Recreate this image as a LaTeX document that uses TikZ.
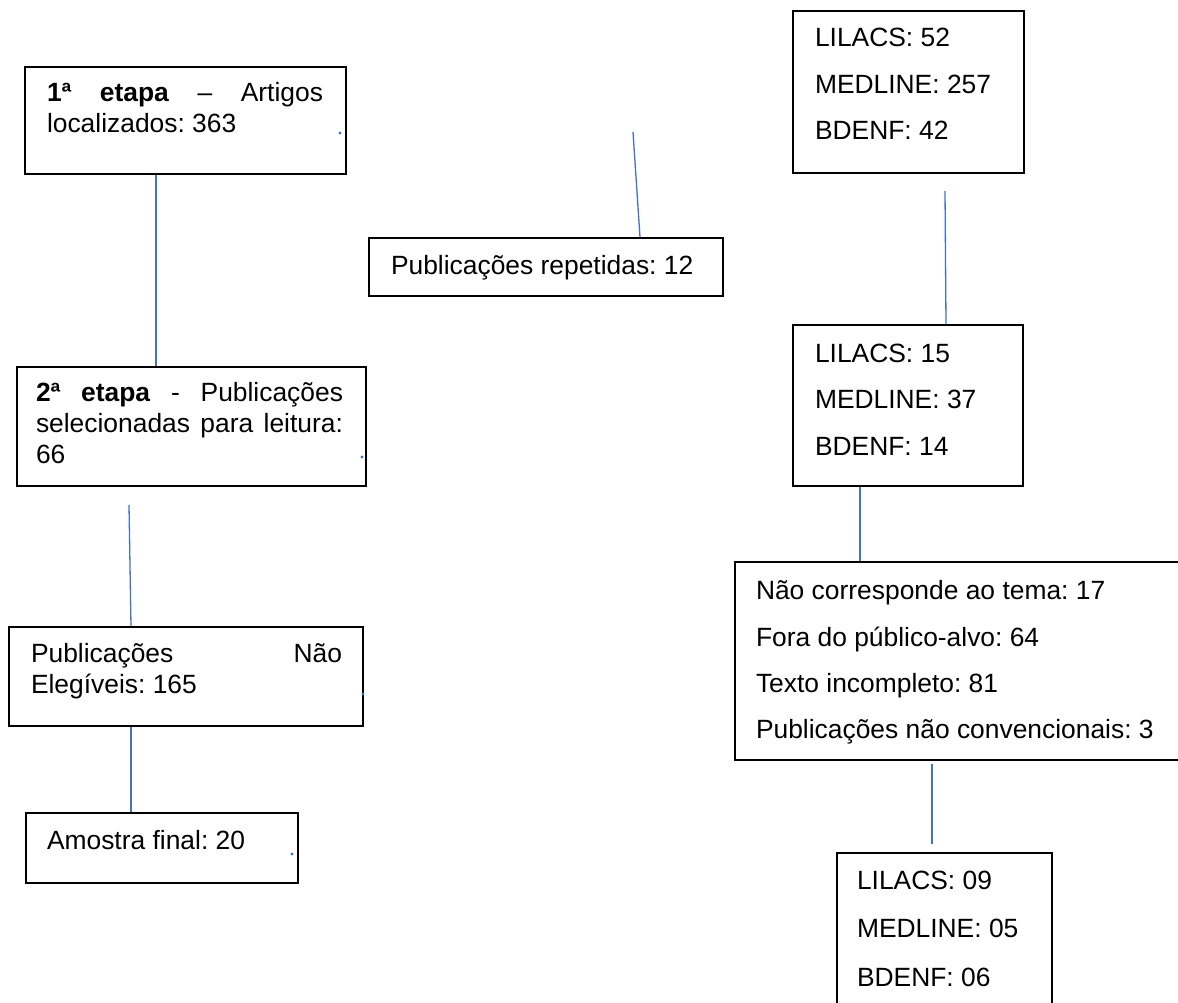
\documentclass[tikz,border=0pt]{standalone}
\usepackage{fontspec}
\setmainfont{Liberation Sans}
\frenchspacing
\definecolor{connblue}{HTML}{4472C4}
\tikzset{
  boxnode/.style={draw=black, line width=1.7pt, rectangle, inner sep=0pt, fill=none},
  txt/.style={anchor=base west, inner sep=0pt, outer sep=0pt, font=\fontsize{26.4}{30}\selectfont},
  conn/.style={draw=connblue, line width=1.3pt},
  speck/.style={fill=connblue}
}
\begin{document}
\begin{tikzpicture}[x=1pt,y=-1pt]
\clip (0,0) rectangle (1178,1003);
\fill[white] (0,0) rectangle (1178,1003);

% boxes
\node[boxnode, minimum width=321pt, minimum height=107pt] (b1) at (185.5,120.5) {};
\node[boxnode, minimum width=349pt, minimum height=119pt] (b2) at (191.5,426.5) {};
\node[boxnode, minimum width=354pt, minimum height=99pt]  (b3) at (186,676.5) {};
\node[boxnode, minimum width=272pt, minimum height=70pt]  (b4) at (162,848) {};
\node[boxnode, minimum width=354pt, minimum height=58pt]  (b5) at (546,267) {};
\node[boxnode, minimum width=231pt, minimum height=162pt] (b6) at (908.5,92) {};
\node[boxnode, minimum width=230pt, minimum height=161pt] (b7) at (908,405.5) {};
\node[boxnode, minimum width=447pt, minimum height=198pt] (b8) at (958.5,661) {};
\node[boxnode, minimum width=215pt, minimum height=157pt] (b9) at (944.5,931.5) {};

% texts
\node[txt] (t1a) at (47,102) {\hbox to 276pt{\textbf{1ª}\hfill\textbf{etapa}\hfill–\hfill Artigos}};
\node[txt] (t1b) at (47,133) {localizados: 363};

\node[txt] (t2a) at (36,401) {\hbox to 307pt{\textbf{2ª}\hfill\textbf{etapa}\hfill-\hfill Publicações}};
\node[txt] (t2b) at (36,432) {\hbox to 307pt{selecionadas\hfill para\hfill leitura:}};
\node[txt] (t2c) at (36,463) {66};

\node[txt] (t3a) at (31,662) {\hbox to 311pt{Publicações\hfill Não}};
\node[txt] (t3b) at (31,693) {Elegíveis: 165};

\node[txt] (t4) at (47,849) {Amostra final: 20};

\node[txt] (t5) at (391,274) {Publicações repetidas: 12};

\node[txt] (t6a) at (815,47) {LILACS: 52};
\node[txt] (t6b) at (815,94) {MEDLINE: 257};
\node[txt] (t6c) at (815,140) {BDENF: 42};

\node[txt] (t7a) at (815,362) {LILACS: 15};
\node[txt] (t7b) at (815,408) {MEDLINE: 37};
\node[txt] (t7c) at (815,455) {BDENF: 14};

\node[txt] (t8a) at (756,599) {Não corresponde ao tema: 17};
\node[txt] (t8b) at (756,646) {Fora do público-alvo: 64};
\node[txt] (t8c) at (756,692) {Texto incompleto: 81};
\node[txt] (t8d) at (756,738) {Publicações não convencionais: 3};

\node[txt] (t9a) at (857,889) {LILACS: 09};
\node[txt] (t9b) at (857,937) {MEDLINE: 05};
\node[txt] (t9c) at (857,986) {BDENF: 06};

% connectors
\coordinate (rtop) at (633,132);
\draw[conn] ([xshift=-29.5pt]b1.south) -- ([xshift=-35.5pt]b2.north);
\draw[conn] ([xshift=-62.5pt,yshift=-18pt]b2.south) -- ([xshift=-55pt]b3.north);
\draw[conn] ([xshift=-55pt]b3.south) -- ([xshift=-31pt]b4.north);
\draw[conn] (rtop) -- ([xshift=94pt]b5.north);
\draw[conn] ([xshift=36.5pt,yshift=-17pt]b6.south) -- ([xshift=38pt]b7.north);
\draw[conn] ([xshift=-48pt]b7.south) -- ([xshift=-98.5pt]b8.north);
\draw[conn] ([xshift=-26.5pt,yshift=-3pt]b8.south) -- ([xshift=-12.5pt,yshift=8pt]b9.north);

% tiny specks
\fill[speck] (340,133) circle (1.6pt);
\fill[speck] (362,457) circle (1.6pt);
\fill[speck] (363,694) circle (1.6pt);
\fill[speck] (292,854) circle (1.6pt);
\end{tikzpicture}
\end{document}
